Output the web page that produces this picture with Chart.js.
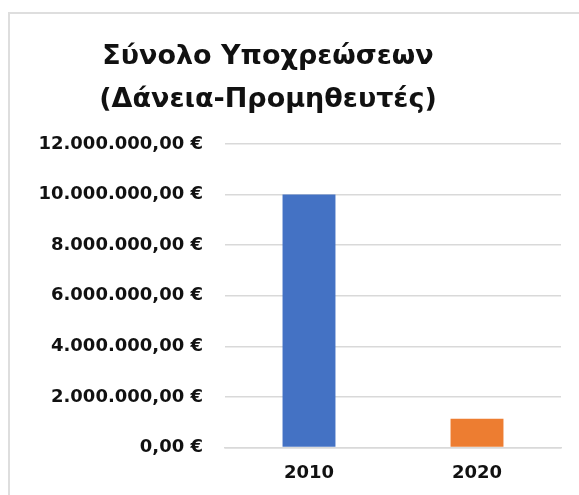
<!DOCTYPE html>
<html lang="el">
<head>
    <meta charset="UTF-8">
    <title>Σύνολο Υποχρεώσεων</title>
    <script src="https://cdn.jsdelivr.net/npm/chart.js"></script>
    <style>
        html, body {
            margin: 0;
            padding: 0;
            background: #ffffff;
            overflow: hidden;
        }
        .frame {
            position: absolute;
            left: 8px;
            top: 12px;
            width: 700px;
            height: 600px;
            border-left: 2px solid #dedede;
            border-top: 2px solid #dedede;
        }
        .chart-box {
            position: absolute;
            left: -25px;
            top: 0;
            width: 604px;
            height: 511px;
        }
    </style>
</head>
<body>
    <div class="frame"></div>
    <div class="chart-box">
        <canvas id="debtChart"></canvas>
    </div>
    <script>
        var years = ['2010', '2020'];
        var totals = [10000000, 1130000];
        var barColors = ['#4472C4', '#ED7D31'];
        var yTickLabels = ['0,00 €', '2.000.000,00 €', '4.000.000,00 €', '6.000.000,00 €',
                           '8.000.000,00 €', '10.000.000,00 €', '12.000.000,00 €'];
        var titleLines = ['Σύνολο Υποχρεώσεων', '(Δάνεια-Προμηθευτές)'];

        var fontFamily = '"DejaVu Sans", sans-serif';

        var ctx = document.getElementById('debtChart').getContext('2d');
        var debtChart = new Chart(ctx, {
            type: 'bar',
            data: {
                labels: years,
                datasets: [{
                    data: totals,
                    backgroundColor: barColors,
                    categoryPercentage: 1,
                    barPercentage: 0.315
                }]
            },
            options: {
                responsive: true,
                maintainAspectRatio: false,
                animation: false,
                layout: {
                    padding: { left: 0, right: 18, top: 0, bottom: 12 }
                },
                plugins: {
                    legend: { display: false },
                    tooltip: { enabled: false },
                    title: {
                        display: true,
                        text: titleLines,
                        color: '#111111',
                        font: { family: fontFamily, size: 27, weight: 'bold', lineHeight: '43px' },
                        padding: { top: 35, bottom: 23 }
                    }
                },
                scales: {
                    x: {
                        grid: { display: false, drawTicks: false },
                        border: { display: true, color: '#d9d9d9', width: 1.5 },
                        ticks: {
                            color: '#111111',
                            padding: 15,
                            font: { family: fontFamily, size: 18, weight: 'bold' }
                        }
                    },
                    y: {
                        min: 0,
                        max: 12000000,
                        afterFit: function (scale) { scale.width = 250; },
                        grid: { color: '#d9d9d9', lineWidth: 1.5, drawTicks: false },
                        border: { display: false },
                        ticks: {
                            stepSize: 2000000,
                            padding: 22,
                            color: '#111111',
                            font: { family: fontFamily, size: 18, weight: 'bold' },
                            callback: function (value, index) { return yTickLabels[index]; }
                        }
                    }
                }
            }
        });
    </script>
</body>
</html>
